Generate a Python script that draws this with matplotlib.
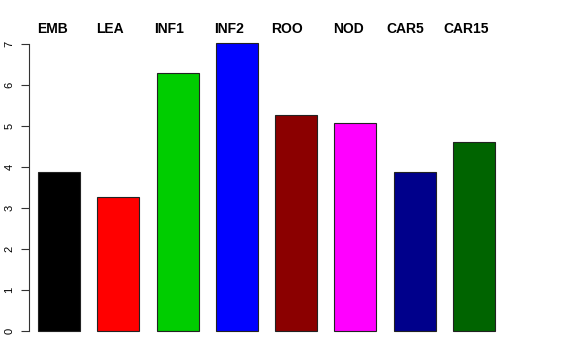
import matplotlib
matplotlib.use("Agg")
import matplotlib.pyplot as plt
import numpy as np

categories = ["EMB", "LEA", "INF1", "INF2", "ROO", "NOD", "CAR5", "CAR15"]
values = [3.89, 3.27, 6.29, 7.02, 5.27, 5.07, 3.89, 4.61]
colors = ["#000000", "#FF0000", "#00CD00", "#0000FF", "#8B0000", "#FF00FF", "#00008B", "#006400"]
yticks = [0, 1, 2, 3, 4, 5, 6, 7]

# layout: left pixel of each top label
label_left_px = [37, 96, 154, 214, 271, 333, 386, 443]

W, H = 576, 360
fig = plt.figure(figsize=(W / 100, H / 100), dpi=100)
plt.rcParams['font.family'] = ['Liberation Sans', 'DejaVu Sans']

left_px, right_px, bottom_px, top_px = 29, 540, 331, 44
ax = fig.add_axes([left_px / W, (H - bottom_px) / H, (right_px - left_px) / W, (bottom_px - top_px) / H])

x = np.arange(len(categories))
ax.bar(x, values, width=0.708, color=colors, edgecolor="#222222", linewidth=0.8, clip_on=False)
ax.set_xlim(-0.506, 8.113)
ax.set_ylim(0, 7)

for s in ["top", "right", "bottom"]:
    ax.spines[s].set_visible(False)
ax.spines["left"].set_color("#333333")
ax.spines["left"].set_linewidth(0.8)
ax.set_xticks([])
ax.set_yticks(yticks)
ax.set_yticklabels([str(t) for t in yticks], rotation=90, va="center", fontsize=8)
ax.tick_params(axis="y", length=5.5, width=0.8, color="#333333", pad=5)

for lab, lx in zip(categories, label_left_px):
    fig.text(lx / W, 1 - 29 / H, lab, ha="left", va="center", fontsize=10, fontweight="bold")

fig.savefig("out.png", dpi=100)
